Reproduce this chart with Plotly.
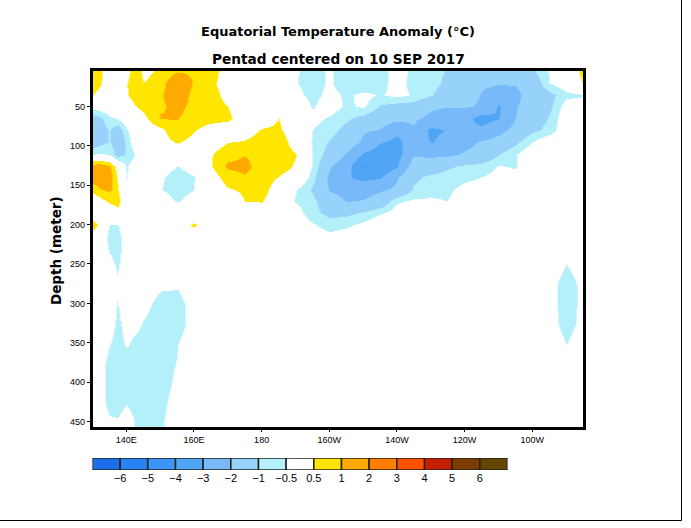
import plotly.graph_objects as go

W, H = 691, 528

lons = [130, 132.5, 135, 137.5, 140, 142.5, 145, 150, 155, 160, 165, 170, 175, 180, 185, 190, 195,
        200, 205, 210, 215, 220, 225, 230, 235, 240, 245, 250, 255, 260, 265, 270, 275]
depths = [5, 20, 35, 50, 65, 80, 95, 110, 125, 140, 155, 170, 185, 200, 215, 230, 250, 275, 300,
          325, 350, 375, 400, 425, 450, 457]

# anomaly along each depth level
d005 = [.8, .6, .1, 0, .2, .9, .35, .6, .95, .9, .7, .3, 0, 0, 0, -.45, -.7, -.42, -.8, -.9, -.7, -.3, -.6, -.9, -1.02, -1.6, -1.8, -1.7, -1.5, -1.1, -.45, 0, .7]
d020 = [.9, .55, 0, 0, .45, .9, .5, .75, 1.6, .95, .65, .2, 0, 0, 0, -.45, -.8, -.4, -.9, -.95, -.7, -.25, -.7, -.85, -1.1, -1.6, -1.9, -1.95, -1.95, -1.5, -.5, -.1, .55]
d035 = [.5, .25, 0, 0, .45, .75, .9, .9, 1.6, .75, .75, .3, 0, 0, 0, -.3, -.7, -.3, -.6, -.35, -.55, -.35, -.55, -.95, -1.3, -1.6, -2.05, -2.3, -2.2, -1.6, -1.2, -.65, -.55]
d050 = [-.3, -.1, 0, 0, .1, .45, .7, .9, 1.2, .8, .75, .5, 0, 0, .1, 0, -.55, -.2, -.6, -.4, -1.05, -1.25, -1.3, -1.85, -1.95, -1.9, -2.1, -3.1, -2.05, -1.6, -1.15, -.2, -.2]
d065 = [-1.3, -1.1, -.6, -.45, 0, .1, .35, 1.05, 1.02, .75, .7, .65, .1, .15, .5, .1, -.35, -.55, -.9, -1.2, -1.6, -1.75, -1.85, -2.2, -2.5, -2.7, -3.35, -3.05, -2, -1.45, -.95, 0, 0]
d080 = [-1.5, -1.3, -.95, -1.4, -.6, 0, .1, .35, .9, .55, .25, .1, .2, .55, .6, .1, -.5, -.8, -1.2, -1.9, -2.05, -2.7, -2.1, -3.2, -2.95, -2.9, -2.8, -2.3, -1.7, -1.15, -.8, 0, 0]
d095 = [-1.4, -1.2, -.95, -1.5, -.9, -.1, 0, .3, .55, .3, .2, .48, .55, .75, .85, .2, -.55, -1.05, -1.4, -2.2, -2.95, -3.3, -2.4, -3.05, -2.7, -2.3, -1.9, -1.6, -1.15, -.48, 0, 0, 0]
d110 = [-.55, -.45, -.55, -1.3, -.95, -.5, -.1, 0, .1, .1, .45, .8, .98, .85, .85, .52, -.55, -1.3, -2.1, -3.1, -3.5, -3.4, -2.1, -2.2, -2.2, -1.9, -1.65, -1.05, -.55, 0, 0, 0, 0]
d125 = [1.3, 1.3, 1.05, .2, -.55, -.2, 0, -.1, -.52, -.15, .45, 1.1, 1.15, .75, .7, .45, -.55, -1.9, -2.6, -4.05, -3.8, -3.1, -1.5, -1.5, -1.1, -.9, -.8, -.48, -.55, 0, 0, 0, 0]
d140 = [1.3, 1.4, 1.3, .45, -.55, -.1, 0, -.4, -.8, -.55, .2, .75, .95, .85, .48, .3, -.75, -2.2, -2.9, -3.3, -3.1, -2.1, -1.15, -.85, -.75, -.65, -.5, -.3, -.35, 0, 0, 0, 0]
d155 = [.7, 1, 1.15, .55, -.1, 0, 0, -.48, -.8, -.52, .1, .45, .6, .8, .1, -.45, -1.1, -2.1, -2.4, -2.35, -2.15, -1.85, -.95, -.6, -.6, -.35, -.2, 0, 0, 0, 0, 0, 0]
d170 = [0, .3, .6, .7, 0, 0, 0, -.15, -.55, -.2, 0, .1, .5, .55, 0, -.55, -.85, -1.5, -2.03, -1.95, -1.55, -.6, -.4, -.45, -.5, -.1, 0, 0, 0, 0, 0, 0, 0]
d185 = [0, 0, .1, .3, 0, 0, 0, 0, -.1, 0, 0, 0, 0, 0, 0, -.2, -.85, -1.15, -1.15, -.9, -.55, -.2, 0, 0, 0, 0, 0, 0, 0, 0, 0, 0, 0]
d200 = [.9, .2, -.52, -.52, 0, 0, 0, 0, 0, .62, 0, 0, 0, 0, 0, 0, -.42, -.8, -.6, -.35, 0, 0, 0, 0, 0, 0, 0, 0, 0, 0, 0, 0, 0]
d215 = [0, 0, -.7, -.75, -.1, 0, 0, 0, 0, 0, 0, 0, 0, 0, 0, 0, -.1, -.3, -.2, 0, 0, 0, 0, 0, 0, 0, 0, 0, 0, 0, 0, 0, 0]
d230 = [0, 0, -.6, -.75, -.1, 0, 0, 0, 0, 0, 0, 0, 0, 0, 0, 0, 0, 0, 0, 0, 0, 0, 0, 0, 0, 0, 0, 0, 0, 0, 0, 0, 0]
d250 = [0, 0, -.3, -.6, -.1, 0, 0, 0, 0, 0, 0, 0, 0, 0, 0, 0, 0, 0, 0, 0, 0, 0, 0, 0, 0, 0, 0, 0, 0, 0, -.1, -.5, -.1]
d275 = [0, 0, -.1, -.42, -.1, 0, 0, -.35, -.4, 0, 0, 0, 0, 0, 0, 0, 0, 0, 0, 0, 0, 0, 0, 0, 0, 0, 0, 0, 0, 0, -.25, -.8, -.3]
d300 = [0, 0, -.2, -.52, -.2, 0, -.25, -.75, -.75, -.2, 0, 0, 0, 0, 0, 0, 0, 0, 0, 0, 0, 0, 0, 0, 0, 0, 0, 0, 0, 0, -.25, -.8, -.3]
d325 = [0, 0, -.2, -.62, -.3, -.25, -.55, -.9, -.8, -.2, 0, 0, 0, 0, 0, 0, 0, 0, 0, 0, 0, 0, 0, 0, 0, 0, 0, 0, 0, 0, -.25, -.75, -.3]
d350 = [0, 0, -.45, -.75, -.4, -.65, -.8, -.9, -.52, -.1, 0, 0, 0, 0, 0, 0, 0, 0, 0, 0, 0, 0, 0, 0, 0, 0, 0, 0, 0, 0, -.1, -.52, -.1]
d375 = [0, -.2, -.75, -.85, -.8, -.85, -.85, -.8, -.47, 0, 0, 0, 0, 0, 0, 0, 0, 0, 0, 0, 0, 0, 0, 0, 0, 0, 0, 0, 0, 0, 0, -.2, 0]
d400 = [0, -.25, -.8, -.85, -.85, -.85, -.85, -.8, -.35, 0, 0, 0, 0, 0, 0, 0, 0, 0, 0, 0, 0, 0, 0, 0, 0, 0, 0, 0, 0, 0, 0, 0, 0]
d425 = [0, -.2, -.75, -.75, -.55, -.75, -.85, -.7, -.2, 0, 0, 0, 0, 0, 0, 0, 0, 0, 0, 0, 0, 0, 0, 0, 0, 0, 0, 0, 0, 0, 0, 0, 0]
d450 = [0, -.15, -.4, -.45, -.2, -.5, -.8, -.6, -.1, 0, 0, 0, 0, 0, 0, 0, 0, 0, 0, 0, 0, 0, 0, 0, 0, 0, 0, 0, 0, 0, 0, 0, 0]
d457 = [0, 0, -.3, -.3, -.1, -.55, -.8, -.6, -.1, 0, 0, 0, 0, 0, 0, 0, 0, 0, 0, 0, 0, 0, 0, 0, 0, 0, 0, 0, 0, 0, 0, 0, 0]

anomaly = [d005, d020, d035, d050, d065, d080, d095, d110, d125, d140, d155, d170, d185, d200, d215,
           d230, d250, d275, d300, d325, d350, d375, d400, d425, d450, d457]
assert all(len(row) == len(lons) for row in anomaly)

levels = [-6, -5, -4, -3, -2, -1, -0.5, 0.5, 1, 2, 3, 4, 5, 6]
level_labels = ["\u22126", "\u22125", "\u22124", "\u22123", "\u22122", "\u22121", "\u22120.5", "0.5", "1", "2", "3", "4", "5", "6"]
shades = ["#1e6eeb", "#2882f0", "#3c96f5", "#50a5f5", "#78b9fa", "#96d2fa", "#b4f0fa", "#ffffff",
          "#ffe600", "#ffaa00", "#ff8000", "#ff5000", "#c81e00", "#7d3c00", "#644600"]

lon_ticks = [140, 160, 180, 200, 220, 240, 260]
lon_labels = ["140E", "160E", "180", "160W", "140W", "120W", "100W"]
depth_ticks = [50, 100, 150, 200, 250, 300, 350, 400, 450]

ZMIN, ZMAX = -7, 7


def px(x):
    return x / W


def py(y):
    return 1 - y / H


# uneven contour levels, so the bands live in the colorscale with hard edges
edges = [ZMIN] + levels + [ZMAX]
colorscale = []
for i, c in enumerate(shades):
    colorscale.append([(edges[i] - ZMIN) / (ZMAX - ZMIN), c])
    colorscale.append([(edges[i + 1] - ZMIN) / (ZMAX - ZMIN), c])

fig = go.Figure()
fig.add_trace(go.Heatmap(x=lons, y=depths, z=anomaly, zmin=ZMIN, zmax=ZMAX, zsmooth="best",
                         colorscale=colorscale, showscale=False, hoverinfo="skip"))
fig.add_trace(go.Bar(x=list(range(len(shades))), y=[1] * len(shades), width=1, xaxis="x2", yaxis="y2",
                     marker=dict(color=shades, line=dict(color="#222222", width=1.5)),
                     showlegend=False, hoverinfo="skip"))

small = dict(family="Liberation Sans", size=9, color="black")
head = dict(family="DejaVu Sans", color="black")
fig.update_layout(
    width=W, height=H, autosize=False,
    margin=dict(l=0, r=0, t=0, b=0),
    paper_bgcolor="white", plot_bgcolor="white",
    showlegend=False,
    xaxis=dict(domain=[px(92.5), px(583)], range=[130, 275], tickvals=lon_ticks, ticktext=lon_labels,
               ticks="outside", ticklen=2, tickwidth=1, tickcolor="black", tickfont=small,
               showline=True, linecolor="black", linewidth=2.5, mirror=True, showgrid=False, zeroline=False),
    yaxis=dict(domain=[py(427), py(71)], range=[457, 5], tickvals=depth_ticks,
               ticks="outside", ticklen=3, tickwidth=1, tickcolor="black", tickfont=small,
               showline=True, linecolor="black", linewidth=2.5, mirror=True, showgrid=False, zeroline=False),
    xaxis2=dict(domain=[px(92.5), px(507.5)], range=[-0.5, 14.5], anchor="y2",
                tickvals=[i + 0.5 for i in range(len(levels))], ticktext=level_labels,
                tickfont=dict(family="Liberation Sans", size=11, color="black"),
                ticks="", showgrid=False, zeroline=False, showline=False),
    yaxis2=dict(domain=[py(470), py(458)], range=[0, 1], anchor="x2", visible=False),
    annotations=[
        dict(text="<b>Equatorial Temperature Anomaly (\u00b0C)</b>", x=px(337.5), y=py(31), xref="paper", yref="paper",
             xanchor="center", yanchor="middle", showarrow=False, font=dict(size=13, **head)),
        dict(text="<b>Pentad centered on 10 SEP 2017</b>", x=px(338), y=py(59), xref="paper", yref="paper",
             xanchor="center", yanchor="middle", showarrow=False, font=dict(size=13.7, **head)),
        dict(text="<b>Depth (meter)</b>", x=px(56), y=py(251), xref="paper", yref="paper", textangle=-90,
             xanchor="center", yanchor="middle", showarrow=False, font=dict(size=13.5, **head)),
    ],
    shapes=[
        dict(type="line", xref="paper", yref="paper", x0=px(681.5), x1=px(681.5), y0=py(0), y1=py(520.5),
             line=dict(color="black", width=1)),
        dict(type="line", xref="paper", yref="paper", x0=0, x1=px(681.5), y0=py(520.5), y1=py(520.5),
             line=dict(color="black", width=1)),
    ],
)

fig.write_html("out.html", config=dict(displayModeBar=False),
               post_script="document.body.style.margin='0';")
